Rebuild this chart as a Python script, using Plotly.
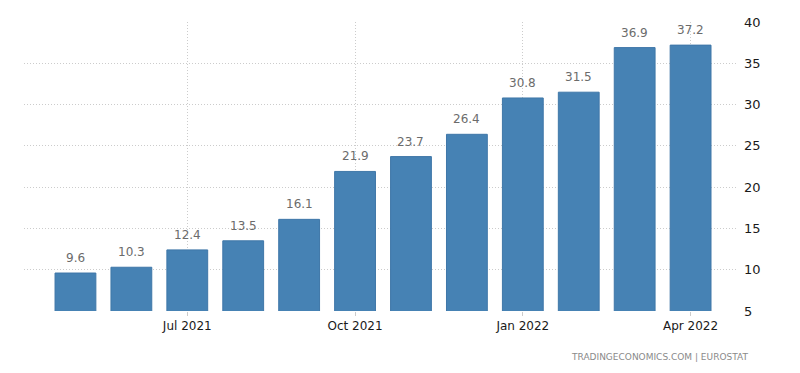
import plotly.graph_objects as go

months = ["May 2021", "Jun 2021", "Jul 2021", "Aug 2021", "Sep 2021", "Oct 2021",
          "Nov 2021", "Dec 2021", "Jan 2022", "Feb 2022", "Mar 2022", "Apr 2022"]
values = [9.6, 10.3, 12.4, 13.5, 16.1, 21.9, 23.7, 26.4, 30.8, 31.5, 36.9, 37.2]
tick_months = ["Jul 2021", "Oct 2021", "Jan 2022", "Apr 2022"]
y_ticks = [5, 10, 15, 20, 25, 30, 35, 40]

FONT = "DejaVu Sans"

fig = go.Figure()
fig.add_trace(go.Bar(
    x=months, y=values, width=0.73,
    marker=dict(color="#4682B4", line=dict(color="#3f77a8", width=1)),
    hoverinfo="x+y",
))

for m, v in zip(months, values):
    fig.add_annotation(x=m, y=v, text=f"{v:.1f}", showarrow=False,
                       yanchor="bottom", yshift=6,
                       font=dict(family=FONT, size=12, color="#6b6b6b"))

fig.add_annotation(xref="paper", yref="paper", x=1.018, y=-0.159,
                   xanchor="right", yanchor="middle", showarrow=False,
                   text="TRADINGECONOMICS.COM | EUROSTAT",
                   font=dict(family=FONT, size=9, color="#8a8a8a"))

fig.update_layout(
    width=800, height=373,
    margin=dict(l=24, r=63, t=22, b=62),
    paper_bgcolor="white", plot_bgcolor="white",
    showlegend=False,
    bargap=0.27,
    xaxis=dict(
        type="category",
        range=[-0.92, 11.83],
        tickmode="array", tickvals=tick_months, ticktext=tick_months,
        showgrid=True, gridcolor="#cccccc", griddash="1px,2px", gridwidth=1,
        ticks="outside", ticklen=4, tickcolor="#cccccc",
        showline=False, zeroline=False,
        tickfont=dict(family=FONT, size=12, color="#1a1a1a"),
    ),
    yaxis=dict(
        side="right",
        range=[5, 40],
        tickmode="array", tickvals=y_ticks,
        showgrid=True, gridcolor="#cccccc", griddash="1px,2px", gridwidth=1,
        zeroline=False, showline=False,
        ticks="", ticklabelstandoff=6,
        tickfont=dict(family=FONT, size=13, color="#1a1a1a"),
    ),
)

fig.write_html("out.html",
               config={"displayModeBar": False},
               post_script="document.body.style.margin='0';document.body.style.overflow='hidden';")
